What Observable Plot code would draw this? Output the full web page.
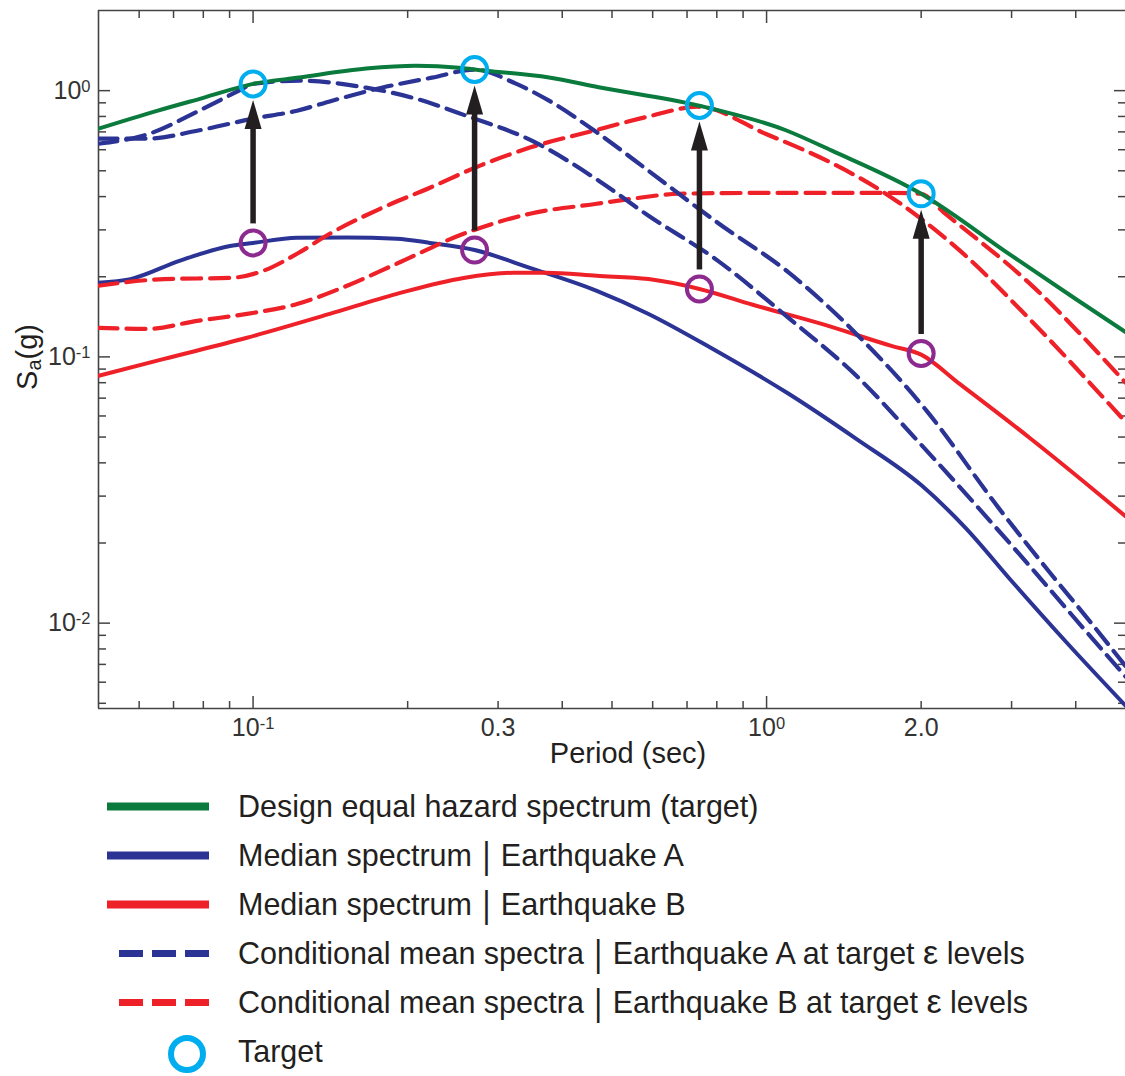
<!DOCTYPE html>
<html>
<head>
<meta charset="utf-8">
<script src="https://cdn.jsdelivr.net/npm/d3@7"></script>
<script src="https://cdn.jsdelivr.net/npm/@observablehq/plot@0.6"></script>
<style>
  body { margin: 0; background: #fff; font-family: "Liberation Sans", Arial, sans-serif; }
  #wrap { position: relative; width: 1125px; height: 1076px; overflow: hidden; }
  #ylab { position: absolute; left: 28px; top: 357px; transform: translate(-50%, -50%) rotate(-90deg);
          font-size: 29px; color: #231f20; white-space: nowrap; }
  #ylab sub { font-size: 20px; vertical-align: -4px; }
  #legend { position: absolute; left: 0; top: 782px; }
  .row { display: flex; align-items: center; height: 49px; }
  .row svg { flex: none; }
  .lt { font-size: 30.5px; color: #231f20; white-space: nowrap; line-height: 49px; }
  .bar { display: inline-block; transform: scaleY(1.2); margin: 0 2px; }
  .eps { font-size: 34px; line-height: 20px; }
</style>
</head>
<body>
<div id="wrap">
  <div id="plot"></div>
  <div id="ylab">S<sub>a</sub>(g)</div>
  <div id="legend"></div>
</div>
<script>
// ---------- data ----------
const designT  = [0.05, 0.065, 0.08, 0.1, 0.123, 0.166, 0.2075, 0.252, 0.27, 0.377, 0.471, 0.735, 1.09, 1.34, 2.0, 3.0, 4.0, 5.0];
const designSa = [0.72, 0.84, 0.94, 1.06, 1.12, 1.21, 1.24, 1.22, 1.20, 1.12, 1.03, 0.88, 0.71, 0.595, 0.41, 0.24, 0.165, 0.124];

const medianAT  = [0.05, 0.0577, 0.0721, 0.0902, 0.1, 0.1218, 0.1524, 0.1905, 0.221, 0.27, 0.346, 0.467, 0.589, 0.78, 1.1, 1.5, 2.0, 2.44, 3.0, 3.82, 5.0];
const medianASa = [0.190, 0.196, 0.230, 0.261, 0.268, 0.280, 0.281, 0.278, 0.268, 0.252, 0.216, 0.177, 0.145, 0.108, 0.073, 0.049, 0.033, 0.0228, 0.0144, 0.00855, 0.0049];

const medianBT  = [0.05, 0.0671, 0.0973, 0.141, 0.1905, 0.257, 0.322, 0.373, 0.467, 0.589, 0.74, 0.94, 1.28, 1.75, 2.0, 2.38, 3.26, 4.44, 5.0];
const medianBSa = [0.0849, 0.0983, 0.118, 0.145, 0.1725, 0.198, 0.207, 0.207, 0.2016, 0.196, 0.180, 0.157, 0.133, 0.110, 0.102, 0.079, 0.0495, 0.0305, 0.0252];

const cmsA1T  = [0.05, 0.0628, 0.0785, 0.0939, 0.1, 0.123, 0.166, 0.2075, 0.26, 0.349, 0.471, 0.589, 0.803, 1.099, 1.496, 1.97, 2.585, 3.28, 3.92, 5.0];
const cmsA1Sa = [0.632, 0.689, 0.841, 1.0, 1.06, 1.09, 1.026, 0.933, 0.805, 0.649, 0.459, 0.339, 0.230, 0.141, 0.0849, 0.0483, 0.0271, 0.0161, 0.0108, 0.0063];

const cmsA2T  = [0.05, 0.0622, 0.0778, 0.1, 0.1218, 0.1426, 0.178, 0.223, 0.27, 0.325, 0.377, 0.471, 0.589, 0.803, 1.099, 1.496, 2.05, 2.83, 3.58, 4.29, 5.0];
const cmsA2Sa = [0.66, 0.66, 0.707, 0.785, 0.841, 0.917, 1.026, 1.119, 1.20, 1.062, 0.917, 0.689, 0.50, 0.319, 0.209, 0.122, 0.0627, 0.0271, 0.0153, 0.0100, 0.0069];

const cmsB1T  = [0.05, 0.0671, 0.0902, 0.105, 0.1218, 0.141, 0.1767, 0.221, 0.2767, 0.346, 0.467, 0.589, 0.735, 0.995, 1.338, 1.674, 2.0, 2.44, 3.26, 5.0];
const cmsB1Sa = [0.185, 0.196, 0.198, 0.211, 0.244, 0.290, 0.360, 0.432, 0.523, 0.611, 0.712, 0.800, 0.87, 0.689, 0.535, 0.42, 0.33, 0.24, 0.138, 0.057];

const cmsB2T  = [0.05, 0.0622, 0.0778, 0.0973, 0.1218, 0.1524, 0.1905, 0.257, 0.346, 0.467, 0.56, 0.675, 1.0, 1.75, 2.0, 2.21, 3.26, 5.0];
const cmsB2Sa = [0.1285, 0.1274, 0.1366, 0.145, 0.158, 0.185, 0.224, 0.290, 0.345, 0.376, 0.395, 0.41, 0.413, 0.413, 0.41, 0.35, 0.188, 0.08];

const targetT    = [0.1, 0.27, 0.74, 2.0];
const targetSa   = [1.06, 1.20, 0.88, 0.41];
const medianPtSa = [0.268, 0.252, 0.180, 0.103];

const xMajorTicks = [0.1, 1];
const xMinorTicks = [0.06, 0.07, 0.08, 0.09, 0.2, 0.3, 0.4, 0.5, 0.6, 0.7, 0.8, 0.9, 2, 3, 4];
const xLabelTicks = [0.1, 0.3, 1, 2];
const xLabelTexts = ["10^-1", "0.3", "10^0", "2.0"];
const yMajorTicks = [0.01, 0.1, 1];
const yMinorTicks = [0.005, 0.006, 0.007, 0.008, 0.009, 0.02, 0.03, 0.04, 0.05, 0.06, 0.07, 0.08, 0.09,
                     0.2, 0.3, 0.4, 0.5, 0.6, 0.7, 0.8, 0.9];
const yLabelTicks = [0.01, 0.1, 1];
const yLabelTexts = ["10^-2", "10^-1", "10^0"];

const legendLabels = [
  "Design equal hazard spectrum (target)",
  "Median spectrum | Earthquake A",
  "Median spectrum | Earthquake B",
  "Conditional mean spectra | Earthquake A at target \u03B5 levels",
  "Conditional mean spectra | Earthquake B at target \u03B5 levels",
  "Target"
];

// ---------- styling ----------
const GREEN = "#0b7a3d", BLUE = "#2b3494", RED = "#ee2129", CYAN = "#00aeef", PURPLE = "#8d2a8f", BLACK = "#231f20";
const AXIS = "#444";
const DASH = "19,9";

const toRows = (T, S) => T.map((t, i) => ({T: t, Sa: S[i]}));
const series = [
  {rows: toRows(medianAT, medianASa), stroke: BLUE, dash: null},
  {rows: toRows(medianBT, medianBSa), stroke: RED, dash: null},
  {rows: toRows(cmsB2T, cmsB2Sa), stroke: RED, dash: DASH},
  {rows: toRows(cmsB1T, cmsB1Sa), stroke: RED, dash: DASH},
  {rows: toRows(cmsA2T, cmsA2Sa), stroke: BLUE, dash: DASH},
  {rows: toRows(cmsA1T, cmsA1Sa), stroke: BLUE, dash: DASH},
  {rows: toRows(designT, designSa), stroke: GREEN, dash: null}
];
const arrows = targetT.map((t, i) => ({T: t, target: targetSa[i], median: medianPtSa[i]}));

const xLab = new Map(xLabelTicks.map((d, i) => [d, xLabelTexts[i]]));
const yLab = new Map(yLabelTicks.map((d, i) => [d, yLabelTexts[i]]));

const arrowHead = {
  draw(ctx) { ctx.moveTo(0, 0); ctx.lineTo(8.5, 29); ctx.lineTo(-8.5, 29); ctx.closePath(); }
};

const yMin = 0.00478, yMax = 2.0, xMin = 0.05, xMax = 5.0;
const tickOpts = {stroke: AXIS, strokeWidth: 1.5, text: null, label: null};

const chart = Plot.plot({
  width: 1125, height: 775,
  marginLeft: 98, marginRight: 0, marginTop: 10, marginBottom: 67,
  style: {fontFamily: "'Liberation Sans', Arial, sans-serif", background: "white", color: "#333"},
  x: {type: "log", domain: [xMin, xMax]},
  y: {type: "log", domain: [yMin, yMax]},
  marks: [
    // frame lines
    Plot.ruleX([xMin], {stroke: AXIS, strokeWidth: 1.6}),
    Plot.ruleY([yMin, yMax], {stroke: AXIS, strokeWidth: 1.6}),
    // inward ticks
    Plot.axisX(xMajorTicks, {anchor: "bottom", tickSize: -12, ...tickOpts}),
    Plot.axisX(xMinorTicks, {anchor: "bottom", tickSize: -7, ...tickOpts}),
    Plot.axisX(xMajorTicks, {anchor: "top", tickSize: -12, ...tickOpts}),
    Plot.axisX(xMinorTicks, {anchor: "top", tickSize: -7, ...tickOpts}),
    Plot.axisY(yMajorTicks, {anchor: "left", tickSize: -12, ...tickOpts}),
    Plot.axisY(yMinorTicks, {anchor: "left", tickSize: -8, ...tickOpts}),
    Plot.axisY(yMajorTicks, {anchor: "right", tickSize: -12, ...tickOpts}),
    Plot.axisY(yMinorTicks, {anchor: "right", tickSize: -8, ...tickOpts}),
    // tick labels
    Plot.axisX(xLabelTicks, {anchor: "bottom", tickSize: 0, tickPadding: 10, fontSize: 25,
      tickFormat: d => xLab.get(d), label: null, fill: "#333"}),
    Plot.axisY(yLabelTicks, {anchor: "left", tickSize: 0, tickPadding: 8, fontSize: 25,
      tickFormat: d => yLab.get(d), label: null, fill: "#333"}),
    Plot.text(["Period (sec)"], {frameAnchor: "bottom", dy: 45, dx: 16, fontSize: 29, fill: BLACK, lineAnchor: "middle"}),
    // curves
    ...series.map(s => Plot.line(s.rows, {x: "T", y: "Sa", stroke: s.stroke, strokeWidth: s.dash ? 4.2 : 4,
      strokeDasharray: s.dash, curve: "monotone-x", clip: true})),
    // arrows: shaft (y1 = top end at target, y2 = bottom end at median) + filled head
    Plot.ruleX(arrows, {x: "T", y1: "target", y2: "median", insetTop: 43, insetBottom: 19, stroke: BLACK, strokeWidth: 5.5}),
    Plot.dot(arrows, {x: "T", y: "target", symbol: arrowHead, fill: BLACK, dy: 16}),
    // circles
    Plot.dot(arrows, {x: "T", y: "median", r: 12.5, stroke: PURPLE, strokeWidth: 4, fill: "none"}),
    Plot.dot(arrows, {x: "T", y: "target", r: 12.5, stroke: CYAN, strokeWidth: 4, fill: "none"})
  ]
});
document.getElementById("plot").append(chart);

// power-of-ten tick labels: turn "10^-1" into 10 with a raised exponent
d3.select(chart).selectAll("text").each(function () {
  const el = d3.select(this);
  const s = el.text();
  const m = /^10\^(-?\d+)$/.exec(s);
  if (!m) return;
  el.text("10");
  el.append("tspan").attr("dy", "-0.42em").attr("font-size", "0.66em").text(m[1]);
});

// ---------- legend ----------
const swatches = [
  {type: "line", color: GREEN}, {type: "line", color: BLUE}, {type: "line", color: RED},
  {type: "dash", color: BLUE}, {type: "dash", color: RED}, {type: "circle", color: CYAN}
];
const legend = d3.select("#legend");
legendLabels.forEach((lab, i) => {
  const row = legend.append("div").attr("class", "row");
  const svg = row.append("svg").attr("width", 238).attr("height", 49);
  const sw = swatches[i];
  if (sw.type === "line") {
    svg.append("line").attr("x1", 107).attr("x2", 209).attr("y1", 24.5).attr("y2", 24.5)
      .attr("stroke", sw.color).attr("stroke-width", 8);
  } else if (sw.type === "dash") {
    svg.append("line").attr("x1", 119).attr("x2", 209).attr("y1", 24.5).attr("y2", 24.5)
      .attr("stroke", sw.color).attr("stroke-width", 7).attr("stroke-dasharray", "24,9");
  } else {
    svg.append("circle").attr("cx", 187).attr("cy", 27).attr("r", 16)
      .attr("stroke", sw.color).attr("stroke-width", 6).attr("fill", "none");
  }
  const t = row.append("div").attr("class", "lt");
  const html = lab.replace(" | ", ' <span class="bar">|</span> ').replace("\u03B5", '<span class="eps">\u03B5</span>');
  t.html(html);
});
</script>
</body>
</html>
